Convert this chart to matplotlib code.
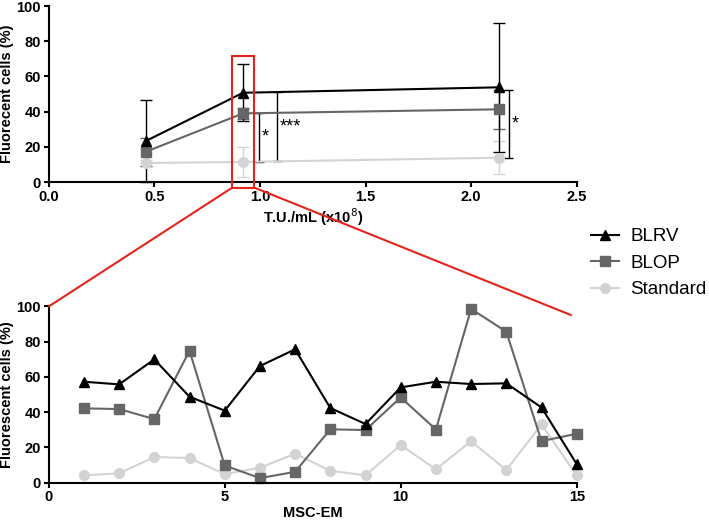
import matplotlib
matplotlib.use("Agg")
import matplotlib.pyplot as plt
from matplotlib.patches import Rectangle, ConnectionPatch

plt.rcParams['font.family'] = ['Liberation Sans', 'DejaVu Sans']

# top panel: transduction units vs fluorescent cells
tu = [0.46, 0.92, 2.13]
blrv_top = [23.3, 50.7, 53.8]
blrv_err = [23.3, 16.3, 36.7]
blop_top = [17.2, 39.0, 41.3]
blop_err = [8.0, 3.0, 11.0]
std_top = [10.8, 11.4, 13.8]
std_err = [1.5, 8.6, 9.5]

# significance brackets: x, y_low, y_high, label
sig_x = [0.997, 1.083, 2.178]
sig_lo = [11.4, 12.0, 13.8]
sig_hi = [39.4, 51.0, 52.3]
sig_txt = ["*", "***", "*"]

# bottom panel: individual MSC-EM samples
msc = list(range(1, 16))
blrv = [57.3, 55.8, 70.0, 48.8, 40.9, 66.2, 75.7, 42.4, 33.3, 54.1, 57.3, 56.0, 56.4, 42.7, 10.6]
blop = [42.2, 41.8, 36.1, 74.9, 9.8, 2.6, 6.2, 30.3, 29.9, 48.4, 30.2, 98.6, 85.7, 23.6, 27.8]
std = [4.2, 5.3, 14.6, 14.0, 4.9, 8.5, 16.5, 6.8, 4.2, 21.4, 7.6, 23.6, 7.2, 33.1, 4.2]

c_blrv, c_blop, c_std = "black", "#666666", "#d3d3d3"
red = "#e3241b"

fig = plt.figure(figsize=(7.09, 5.23), dpi=100)
ax1 = fig.add_axes([0.0687, 0.652, 0.7447, 0.3365])
ax2 = fig.add_axes([0.0687, 0.077, 0.7447, 0.337])

def style(ax):
    for s in ["top", "right"]:
        ax.spines[s].set_visible(False)
    for s in ["left", "bottom"]:
        ax.spines[s].set_linewidth(1.5)
    ax.tick_params(width=1.5, length=3.5, pad=2, labelsize=10.5)
    for lab in ax.get_xticklabels() + ax.get_yticklabels():
        lab.set_fontweight("bold")

# top
ax1.errorbar(tu, std_top, yerr=std_err, color=c_std, marker="o", ms=7, lw=1.5,
             elinewidth=1, capsize=4, clip_on=False)
ax1.errorbar(tu, blop_top, yerr=blop_err, color=c_blop, marker="s", ms=7, lw=1.5,
             elinewidth=1, capsize=4, clip_on=False)
ax1.errorbar(tu, blrv_top, yerr=blrv_err, color=c_blrv, marker="^", ms=7, lw=1.5,
             elinewidth=1, capsize=4, clip_on=False)
for x, lo, hi, t in zip(sig_x, sig_lo, sig_hi, sig_txt):
    ax1.vlines(x, lo, hi, color="black", lw=1)
    ax1.hlines([lo, hi], x - 0.022, x + 0.022, color="black", lw=1)
    ax1.text(x + 0.012, (lo + hi) / 2, t, fontsize=13, va="center", ha="left")
ax1.set_xlim(0, 2.5)
ax1.set_ylim(0, 100)
ax1.set_xticks([0, 0.5, 1.0, 1.5, 2.0, 2.5])
ax1.set_xticklabels(["0.0", "0.5", "1.0", "1.5", "2.0", "2.5"])
ax1.set_yticks(range(0, 101, 20))
ax1.set_xlabel("T.U./mL (x10$^{8}$)", fontsize=10.5, fontweight="bold", labelpad=2)
ax1.set_ylabel("Fluorecent cells (%)", fontsize=10.5, fontweight="bold", labelpad=2)
style(ax1)

rect = Rectangle((0.869, -3.2), 0.105, 75.0, fill=False, ec=red, lw=1.5, clip_on=False, zorder=5)
ax1.add_patch(rect)

# bottom
ax2.plot(msc, std, color=c_std, marker="o", ms=7, lw=1.5, clip_on=False, label="Standard")
ax2.plot(msc, blop, color=c_blop, marker="s", ms=7, lw=1.5, clip_on=False, label="BLOP")
ax2.plot(msc, blrv, color=c_blrv, marker="^", ms=7, lw=1.5, clip_on=False, label="BLRV")
ax2.set_xlim(0, 15)
ax2.set_ylim(0, 100)
ax2.set_xticks([0, 5, 10, 15])
ax2.set_yticks(range(0, 101, 20))
ax2.set_xlabel("MSC-EM", fontsize=10.5, fontweight="bold", labelpad=1)
ax2.set_ylabel("Fluorescent cells (%)", fontsize=10.5, fontweight="bold", labelpad=2)
style(ax2)

# zoom lines
for pa, pb in [((0.869, -3.2), (0, 100)), ((0.974, -3.2), (14.84, 95.1))]:
    con = ConnectionPatch(xyA=pa, coordsA=ax1.transData, xyB=pb, coordsB=ax2.transData,
                          color=red, lw=1.5)
    fig.add_artist(con)

h, l = ax2.get_legend_handles_labels()
fig.legend(h[::-1], l[::-1], loc="upper left", bbox_to_anchor=(0.818, 0.585),
           frameon=False, fontsize=13.5, handlelength=1.5, labelspacing=0.5,
           handletextpad=0.6, borderaxespad=0.2)

fig.savefig("out.png", dpi=100)
